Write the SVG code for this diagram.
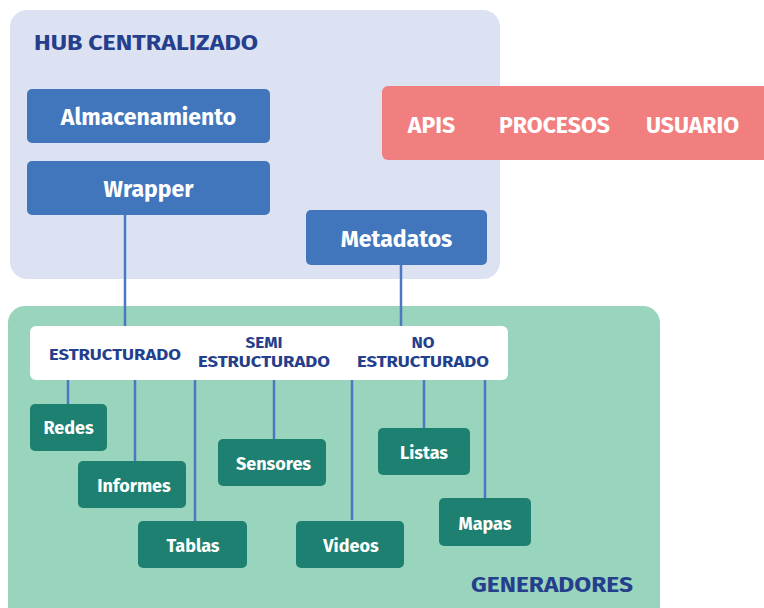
<svg xmlns="http://www.w3.org/2000/svg" width="764" height="608" viewBox="0 0 764 608">
<style>
.t{font-family:"Fira Sans","Noto Sans","Open Sans",sans-serif;font-weight:bold;text-anchor:middle}
.hub{fill:#4176bc}
.gen{fill:#1e8070}
.wt{fill:#ffffff}
.nv{fill:#263f8c}
.ln{stroke:#4a78c2;stroke-width:2.5;fill:none}
</style>
<rect x="10" y="10" width="490" height="269" rx="17" fill="#dde2f3"/>
<rect x="8" y="306" width="652" height="320" rx="17" fill="#99d4bc"/>
<text class="t nv" x="34" y="50" font-size="22" textLength="224" lengthAdjust="spacingAndGlyphs" style="text-anchor:start">HUB CENTRALIZADO</text>
<text class="t nv" x="471" y="592" font-size="22" textLength="162" lengthAdjust="spacingAndGlyphs" style="text-anchor:start">GENERADORES</text>
<g id="connectors">
<line class="ln" x1="125" y1="215" x2="125" y2="327"/>
<line class="ln" x1="401" y1="265" x2="401" y2="327"/>
<line class="ln" x1="68" y1="379" x2="68" y2="405"/>
<line class="ln" x1="135" y1="379" x2="135" y2="462"/>
<line class="ln" x1="195" y1="379" x2="195" y2="521"/>
<line class="ln" x1="274" y1="379" x2="274" y2="440"/>
<line class="ln" x1="352" y1="379" x2="352" y2="520"/>
<line class="ln" x1="424" y1="379" x2="424" y2="429"/>
<line class="ln" x1="485" y1="379" x2="485" y2="498"/>
</g>
<g id="almacenamiento"><rect class="hub" x="27" y="89" width="243" height="54" rx="5"/><text class="t wt" x="148.5" y="125" font-size="23">Almacenamiento</text></g>
<g id="wrapper"><rect class="hub" x="27" y="161" width="243" height="54" rx="5"/><text class="t wt" x="148.5" y="197" font-size="23">Wrapper</text></g>
<g id="metadatos"><rect class="hub" x="306" y="210" width="181" height="55" rx="5"/><text class="t wt" x="396.5" y="247" font-size="23">Metadatos</text></g>
<g id="apis-procesos-usuario"><rect x="382" y="86" width="400" height="74" rx="6" fill="#f17f80"/>
<text class="t wt" x="431.5" y="133" font-size="23">APIS</text>
<text class="t wt" x="554.5" y="133" font-size="23">PROCESOS</text>
<text class="t wt" x="692.5" y="133" font-size="23">USUARIO</text></g>
<g id="tipos"><rect x="30" y="326" width="478" height="54" rx="6" fill="#ffffff"/>
<text class="t nv" x="115" y="360" font-size="17" textLength="132" lengthAdjust="spacingAndGlyphs">ESTRUCTURADO</text>
<text class="t nv" x="264" y="348" font-size="17">SEMI</text>
<text class="t nv" x="264" y="367" font-size="17" textLength="132" lengthAdjust="spacingAndGlyphs">ESTRUCTURADO</text>
<text class="t nv" x="423" y="348" font-size="17">NO</text>
<text class="t nv" x="423" y="367" font-size="17" textLength="132" lengthAdjust="spacingAndGlyphs">ESTRUCTURADO</text></g>
<g id="redes"><rect class="gen" x="30" y="404" width="77" height="47" rx="5"/><text class="t wt" x="68.5" y="434" font-size="18">Redes</text></g>
<g id="informes"><rect class="gen" x="78" y="461" width="108" height="47" rx="5"/><text class="t wt" x="134" y="492" font-size="18">Informes</text></g>
<g id="tablas"><rect class="gen" x="138" y="521" width="109" height="47" rx="5"/><text class="t wt" x="193" y="552" font-size="18">Tablas</text></g>
<g id="sensores"><rect class="gen" x="218" y="439" width="108" height="47" rx="5"/><text class="t wt" x="273.5" y="470" font-size="18">Sensores</text></g>
<g id="videos"><rect class="gen" x="296" y="521" width="108" height="47" rx="5"/><text class="t wt" x="351" y="552" font-size="18">Videos</text></g>
<g id="listas"><rect class="gen" x="378" y="428" width="92" height="47" rx="5"/><text class="t wt" x="424" y="459" font-size="18">Listas</text></g>
<g id="mapas"><rect class="gen" x="439" y="498" width="92" height="48" rx="5"/><text class="t wt" x="485" y="530" font-size="18">Mapas</text></g>
</svg>
